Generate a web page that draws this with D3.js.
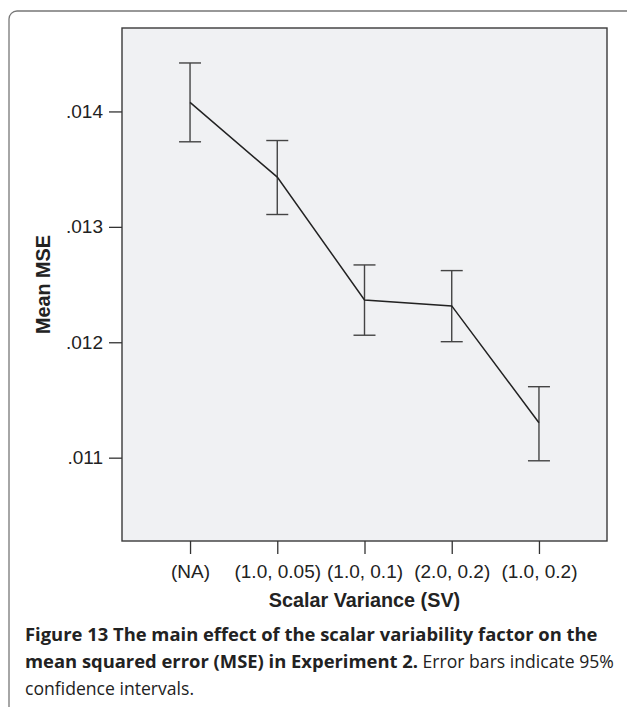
<!DOCTYPE html>
<html lang="en">
<head>
<meta charset="utf-8">
<title>Mean MSE by scalar variance</title>
<script src="https://cdn.jsdelivr.net/npm/d3@7/dist/d3.min.js"></script>
<style>
  * { margin: 0; padding: 0; }
  body { background: #fff; width: 627px; height: 707px; overflow: hidden; }
  svg { display: block; }
  .axis text { font-family: "Liberation Sans", Arial, sans-serif; font-size: 19px; fill: #222; }
  .axis line { stroke: #333; stroke-width: 1.3; }
  .title { font-family: "Liberation Sans", Arial, sans-serif; font-size: 19.8px; font-weight: bold; fill: #222; }
  .caption { font-family: "Open Sans", "Noto Sans", sans-serif; fill: #222; }
</style>
</head>
<body>
<svg id="chart" width="627" height="707"></svg>
<script>
// values
const categories = ["(NA)", "(1.0, 0.05)", "(1.0, 0.1)", "(2.0, 0.2)", "(1.0, 0.2)"];
const meanMSE = [0.014078, 0.013431, 0.012367, 0.012315, 0.011303];
const ciUpper = [0.014420, 0.013748, 0.012670, 0.012621, 0.011615];
const ciLower = [0.013737, 0.013107, 0.012061, 0.012005, 0.010973];
const yTicks = [0.011, 0.012, 0.013, 0.014];
const yDomain = [0.010278, 0.014723];

const captionLines = [
  [{ t: "Figure 13 The main effect of the scalar variability factor on the", b: true }],
  [{ t: "mean squared error (MSE) in Experiment 2.", b: true }, { t: " Error bars indicate 95%", b: false }],
  [{ t: "confidence intervals.", b: false }]
];

const svg = d3.select("#chart");
const plot = { left: 122, right: 607, top: 28, bottom: 541 };

// outer frame, right and bottom run off the page
svg.append("rect")
  .attr("x", 9).attr("y", 11).attr("width", 700).attr("height", 800)
  .attr("rx", 8)
  .attr("fill", "none").attr("stroke", "#777").attr("stroke-width", 1.3);

const x = d3.scalePoint().domain(categories).range([plot.left, plot.right]).padding(0.78);
const y = d3.scaleLinear().domain(yDomain).range([plot.bottom, plot.top]);

svg.append("rect")
  .attr("x", plot.left).attr("y", plot.top)
  .attr("width", plot.right - plot.left).attr("height", plot.bottom - plot.top)
  .attr("fill", "#f0f1f3").attr("stroke", "#3a3a3a").attr("stroke-width", 1.4);

const yAxis = svg.append("g").attr("class", "axis")
  .attr("transform", `translate(${plot.left},0)`)
  .call(d3.axisLeft(y).tickValues(yTicks).tickSize(13).tickPadding(6)
    .tickFormat(d => d3.format(".3f")(d).replace(/^0/, "")));
yAxis.select(".domain").remove();

const xAxis = svg.append("g").attr("class", "axis")
  .attr("transform", `translate(0,${plot.bottom})`)
  .call(d3.axisBottom(x).tickSize(13).tickPadding(11));
xAxis.select(".domain").remove();

// error bars
const rows = categories.map((c, i) => ({ c, m: meanMSE[i], lo: ciLower[i], hi: ciUpper[i] }));
const capW = 11;
const bars = svg.append("g").attr("stroke", "#444").attr("stroke-width", 1.4);
rows.forEach(r => {
  const cx = x(r.c);
  bars.append("line").attr("x1", cx).attr("x2", cx).attr("y1", y(r.hi)).attr("y2", y(r.lo));
  bars.append("line").attr("x1", cx - capW).attr("x2", cx + capW).attr("y1", y(r.hi)).attr("y2", y(r.hi));
  bars.append("line").attr("x1", cx - capW).attr("x2", cx + capW).attr("y1", y(r.lo)).attr("y2", y(r.lo));
});

// mean line
svg.append("path")
  .datum(rows)
  .attr("fill", "none").attr("stroke", "#222").attr("stroke-width", 1.5)
  .attr("d", d3.line().x(d => x(d.c)).y(d => y(d.m)));

// axis titles
svg.append("text").attr("class", "title")
  .attr("x", (plot.left + plot.right) / 2).attr("y", 607)
  .attr("text-anchor", "middle").text("Scalar Variance (SV)");

svg.append("text").attr("class", "title")
  .attr("transform", `translate(50,${(plot.top + plot.bottom) / 2}) rotate(-90)`)
  .attr("text-anchor", "middle").text("Mean MSE");

// caption
const cap = svg.append("text").attr("class", "caption");
captionLines.forEach((line, i) => {
  line.forEach((seg, j) => {
    const ts = cap.append("tspan").text(seg.t)
      .attr("font-weight", seg.b ? "bold" : "normal")
      .attr("font-size", seg.b ? 18.4 : 17.6);
    if (j === 0) ts.attr("x", 25).attr("y", 641 + i * 27);
  });
});
</script>
</body>
</html>
